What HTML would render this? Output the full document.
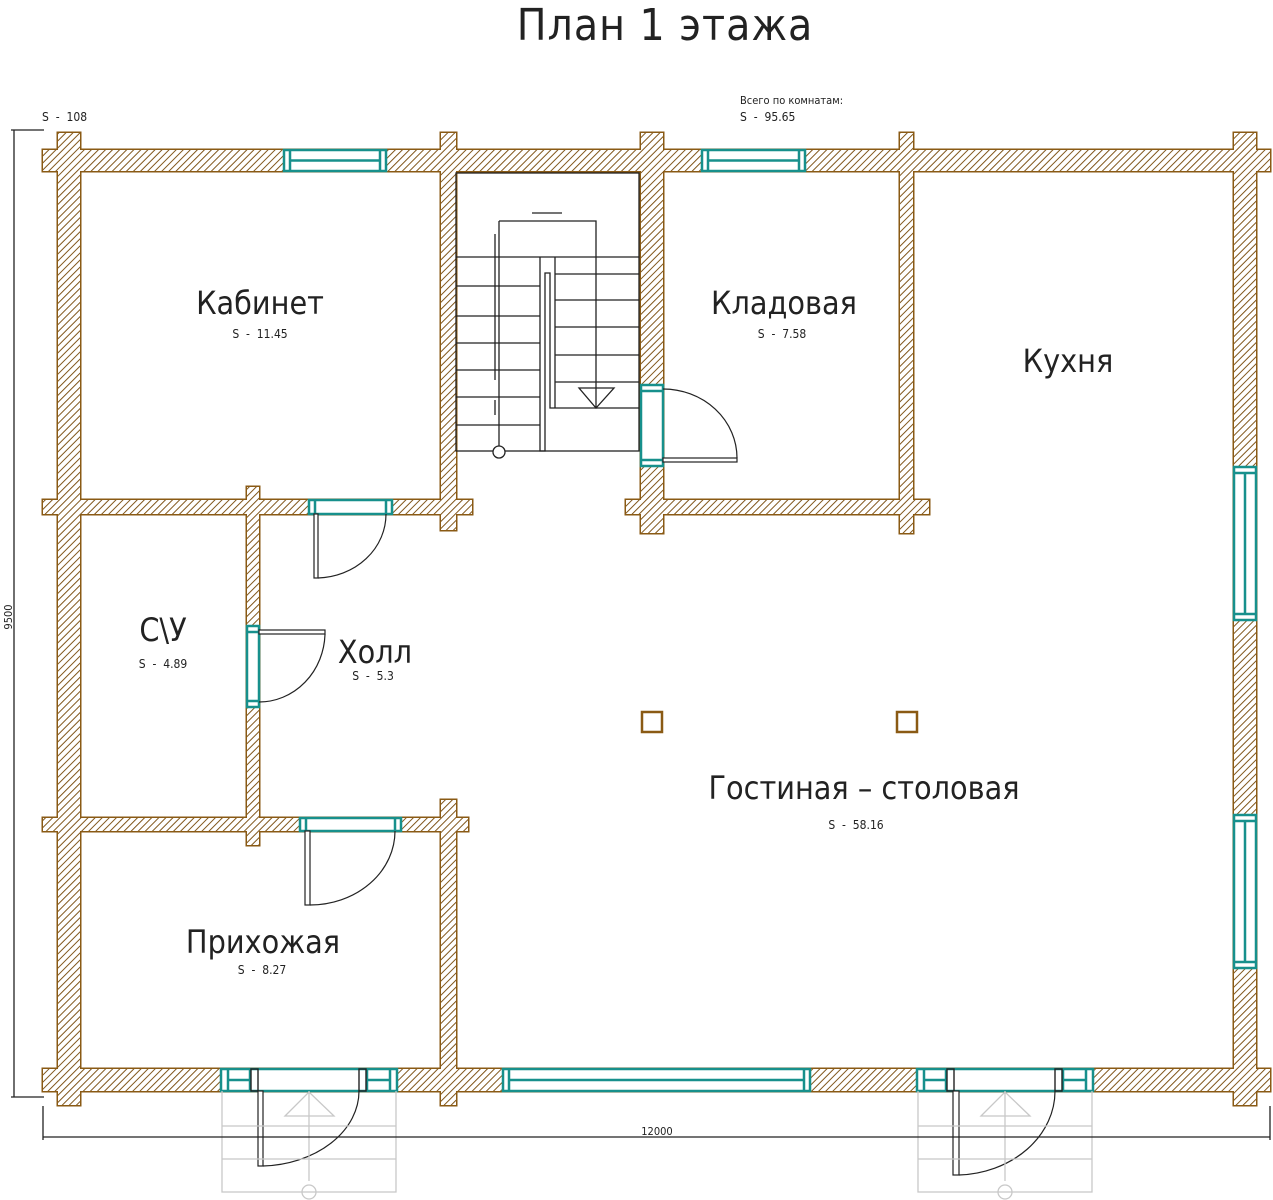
<!DOCTYPE html>
<html><head><meta charset="utf-8"><style>
html,body{margin:0;padding:0;background:#fff}
svg{display:block}
text{font-family:"DejaVu Sans Condensed","Liberation Sans Narrow","Liberation Sans",sans-serif;fill:#222}
</style></head><body>
<svg width="1273" height="1200" viewBox="0 0 1273 1200" xmlns="http://www.w3.org/2000/svg">
<defs>
<pattern id="h" patternUnits="userSpaceOnUse" width="5" height="5" patternTransform="rotate(45)">
<rect width="5" height="5" fill="#fff"/><line x1="0" y1="0" x2="0" y2="5" stroke="#7a4e10" stroke-width="1.9"/>
</pattern>
</defs>
<text x="665" y="40" font-size="44" text-anchor="middle" font-weight="300" style="letter-spacing:1px">План 1 этажа</text>

<g fill="#8a5a14" stroke="#8a5a14" stroke-width="3">
<rect x="43" y="150" width="1227" height="21"/>
<rect x="43" y="1069" width="1227" height="22"/>
<rect x="58" y="133" width="22" height="972"/>
<rect x="1234" y="133" width="22" height="972"/>
<rect x="441" y="133" width="15" height="397"/>
<rect x="641" y="133" width="22" height="400"/>
<rect x="900" y="133" width="13" height="400"/>
<rect x="43" y="500" width="429" height="14"/>
<rect x="626" y="500" width="303" height="14"/>
<rect x="247" y="487" width="12" height="358"/>
<rect x="43" y="818" width="425" height="13"/>
<rect x="441" y="800" width="15" height="305"/>
</g>
<g fill="url(#h)">
<rect x="43" y="150" width="1227" height="21"/>
<rect x="43" y="1069" width="1227" height="22"/>
<rect x="58" y="133" width="22" height="972"/>
<rect x="1234" y="133" width="22" height="972"/>
<rect x="441" y="133" width="15" height="397"/>
<rect x="641" y="133" width="22" height="400"/>
<rect x="900" y="133" width="13" height="400"/>
<rect x="43" y="500" width="429" height="14"/>
<rect x="626" y="500" width="303" height="14"/>
<rect x="247" y="487" width="12" height="358"/>
<rect x="43" y="818" width="425" height="13"/>
<rect x="441" y="800" width="15" height="305"/>
</g>

<g fill="#fff" stroke="#17908c" stroke-width="2.5">
<rect x="284" y="150" width="102" height="21"/><path d="M290 150V171M380 150V171M290 160.5H380"/>
<rect x="702" y="150" width="103" height="21"/><path d="M708 150V171M799 150V171M708 160.5H799"/>
<rect x="1234" y="467" width="22" height="153"/><path d="M1234 473H1256M1234 614H1256M1245 473V614"/>
<rect x="1234" y="815" width="22" height="153"/><path d="M1234 821H1256M1234 962H1256M1245 821V962"/>
<rect x="503" y="1069" width="307" height="22"/><path d="M509 1069V1091M804 1069V1091M509 1080H804"/>
<rect x="221" y="1069" width="176" height="22"/><path d="M228 1069V1091M250 1069V1091M228 1080H250M367 1069V1091M390 1069V1091M367 1080H390"/>
<rect x="917" y="1069" width="176" height="22"/><path d="M924 1069V1091M946 1069V1091M924 1080H946M1063 1069V1091M1086 1069V1091M1063 1080H1086"/>
<rect x="309" y="500" width="83" height="14"/><path d="M315 500V514M386 500V514"/>
<rect x="300" y="818" width="101" height="13"/><path d="M306 818V831M395 818V831"/>
<rect x="247" y="626" width="12" height="81"/><path d="M247 632H259M247 701H259"/>
<rect x="641" y="385" width="22" height="81"/><path d="M641 391H663M641 460H663"/>
</g>
<g fill="none" stroke="#222" stroke-width="1.4">
<rect x="251" y="1069" width="7" height="22"/><rect x="359" y="1069" width="7" height="22"/>
<rect x="947" y="1069" width="7" height="22"/><rect x="1055" y="1069" width="7" height="22"/>
</g>

<g fill="#fff" stroke="#222" stroke-width="1.2">
<rect x="314" y="514" width="4" height="64"/><path d="M318 578A70 64 0 0 0 386 514" fill="none"/>
<rect x="305" y="831" width="5" height="74"/><path d="M310 905A85 74 0 0 0 395 831" fill="none"/>
<rect x="259" y="630" width="66" height="4"/><path d="M259 702A66 70 0 0 0 325 634" fill="none"/>
<rect x="663" y="458" width="74" height="4"/><path d="M663 389A74 69 0 0 1 737 458" fill="none"/>
<rect x="258" y="1091" width="5" height="75"/><path d="M263 1166A100 75 0 0 0 359 1091" fill="none"/>
<rect x="953" y="1091" width="6" height="84"/><path d="M959 1175A100 84 0 0 0 1055 1091" fill="none"/>
</g>
<g fill="none" stroke="#c8c8c8" stroke-width="1.3">
<path d="M222 1091V1192H396V1091M222 1126H396M222 1159H396M309 1091V1181M285 1116L309 1092L334 1116Z"/><circle cx="309" cy="1192" r="7"/>
<path d="M918 1091V1192H1092V1091M918 1126H1092M918 1159H1092M1005 1091V1181M981 1116L1005 1092L1030 1116Z"/><circle cx="1005" cy="1192" r="7"/>
</g>

<g fill="none" stroke="#222" stroke-width="1.3">
<rect x="456" y="173" width="183" height="278"/>
<path d="M456 257H540M456 286H540M456 316H540M456 343H540M456 370H540M456 397H540M456 425H540"/>
<path d="M540 257V451H545V273H550V408H639M555 257H639M555 274H639M555 300H639M555 327H639M555 355H639M555 382H639M555 257V408M540 257H555"/>
<path d="M499 221V451M499 221H596V408M495 234V380M495 400V415M532 213H562M579 388H614L596 408Z"/>
<circle cx="499" cy="452" r="6" fill="#fff"/>
</g>

<g fill="#fff" stroke="#8a5a14" stroke-width="2.5">
<rect x="642" y="712" width="20" height="20"/><rect x="897" y="712" width="20" height="20"/>
</g>

<g stroke="#222" stroke-width="1.3" fill="none">
<path d="M14 130V1097M11 130H44M11 1097H44M43 1106V1140M1270 1106V1140M43 1137H1270"/>
</g>
<text x="657" y="1135" font-size="11" text-anchor="middle">12000</text>
<text x="12" y="617" font-size="11" text-anchor="middle" transform="rotate(-90 12 617)">9500</text>
<text x="42" y="121" font-size="12">S&#160;&#160;-&#160;&#160;108</text>
<text x="740" y="104" font-size="11">Всего по комнатам:</text>
<text x="740" y="121" font-size="12">S&#160;&#160;-&#160;&#160;95.65</text>

<g text-anchor="middle">
<text x="260" y="314" font-size="32">Кабинет</text><text x="260" y="338" font-size="12">S&#160;&#160;-&#160;&#160;11.45</text>
<text x="784" y="314" font-size="32">Кладовая</text><text x="782" y="338" font-size="12">S&#160;&#160;-&#160;&#160;7.58</text>
<text x="1068" y="372" font-size="32">Кухня</text>
<text x="163" y="641" font-size="32">С\У</text><text x="163" y="668" font-size="12">S&#160;&#160;-&#160;&#160;4.89</text>
<text x="375" y="663" font-size="32">Холл</text><text x="373" y="680" font-size="12">S&#160;&#160;-&#160;&#160;5.3</text>
<text x="864" y="799" font-size="32">Гостиная – столовая</text><text x="856" y="829" font-size="12">S&#160;&#160;-&#160;&#160;58.16</text>
<text x="263" y="953" font-size="32">Прихожая</text><text x="262" y="974" font-size="12">S&#160;&#160;-&#160;&#160;8.27</text>
</g>
</svg>
</body></html>
